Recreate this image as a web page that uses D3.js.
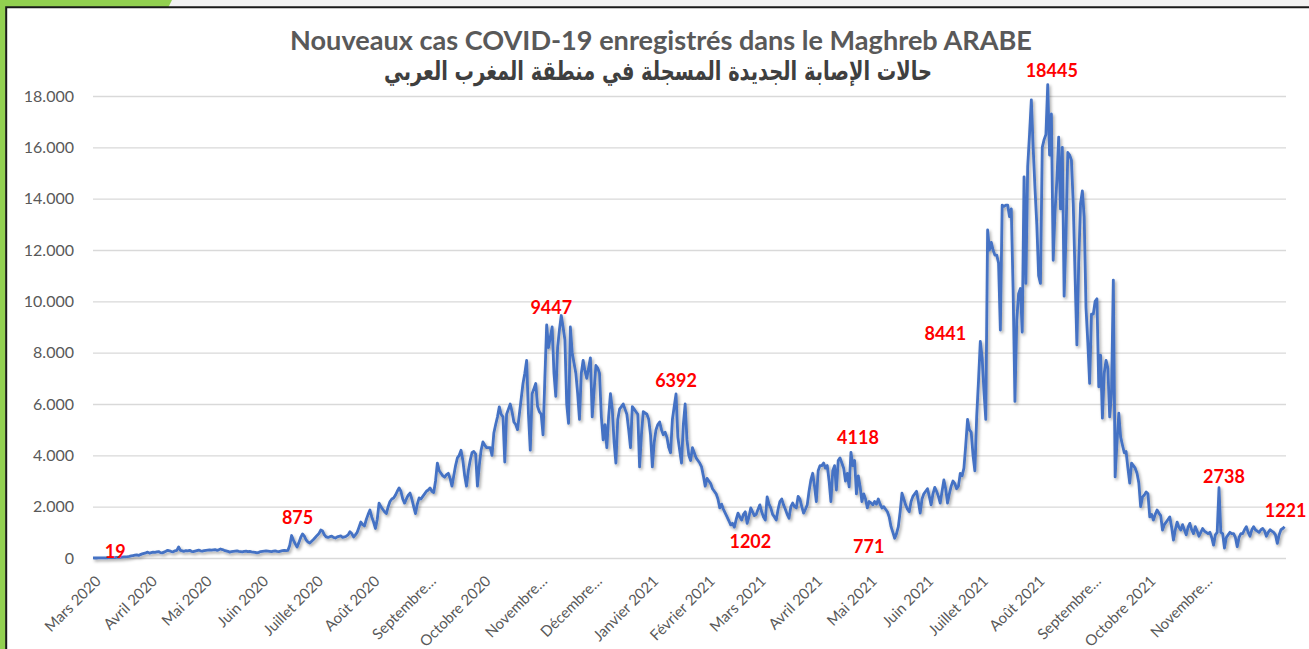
<!DOCTYPE html>
<html>
<head>
<meta charset="utf-8">
<script src="https://cdn.jsdelivr.net/npm/d3@7"></script>
<style>
  body { margin: 0; background: #f2f2f2; }
  svg { display: block; }
</style>
</head>
<body>
<svg id="chart" width="1309" height="649"></svg>
<script>
// daily new cases, one array per month
const feb2020 = [1, 0, 0, 1];
const mar2020 = [2,3,5,8,10,12,19,14,18,25,28,30,35,40,45,50,60,80,95,110,120,100,130,160,180,200,230,190,210,230,220];
const apr2020 = [240,250,210,200,230,260,300,280,250,240,280,300,430,300,280,260,290,280,300,260,250,270,290,310,280,270,290,300,310,320];
const may2020 = [310,320,330,300,320,350,330,300,280,260,230,250,260,270,280,260,250,240,260,270,250,260,240,230,220,200,220,250,260,270,280];
const jun2020 = [270,260,250,270,280,260,250,270,290,300,290,300,500,875,700,550,430,600,800,935,850,700,620,580,650,720,800,880,950,1090];
const jul2020 = [1050,900,820,800,830,850,800,780,820,840,860,800,820,850,900,1020,950,820,900,1000,1200,1400,1300,1250,1500,1700,1870,1600,1400,1150,1500];
const aug2020 = [2140,2000,1900,1800,1730,2000,2200,2300,2340,2450,2600,2730,2600,2300,2140,2300,2450,2530,2300,2000,1730,2100,2340,2300,2400,2500,2600,2650,2730,2600,2550];
const sep2020 = [3000,3700,3400,3300,3200,3150,3250,3300,3100,2800,3200,3600,3900,4000,4200,3800,3200,2800,3400,3800,4100,4150,4050,2800,3600,4200,4520,4400,4300,4300];
const oct2020 = [4300,4000,4870,5200,5500,5890,5600,5500,3740,5600,5800,6000,5700,5300,5200,5000,5600,6200,6800,7200,7700,5600,4200,6400,6600,6800,5900,5700,5600,4800,7000];
const nov2020 = [9080,8200,8600,9000,7200,6300,8200,8900,9447,9000,8500,6000,5250,9000,8000,7600,7200,6400,5400,7200,7700,7300,7000,7400,7800,5500,6500,7500,7400,7200];
const dec2020 = [5500,4600,5200,4300,5500,6400,5800,4500,3700,5400,5800,5900,6000,5800,5600,5000,4300,5900,5800,5700,5600,3550,4800,5700,5650,5600,5400,4800,3550,4500,5000];
const jan2021 = [5200,5300,5000,4800,4900,4700,4300,4100,5400,5900,6392,4700,4200,3700,5200,6000,4600,4000,3800,4300,4100,3900,3800,3700,3550,3200,2800,3100,3000,2900,2700];
const feb2021 = [2600,2500,2300,1950,2100,1900,1750,1600,1450,1290,1350,1202,1500,1750,1600,1480,1700,1800,1350,1600,1950,1800,1650,1700,1900,2070,1800,1600];
const mar2021 = [1480,2380,2100,1950,1700,1600,1480,1900,2200,2300,2070,1900,1700,1550,2000,2140,2000,1950,2400,2300,2000,1750,1900,2070,2600,3040,3300,2800,2200,3400,3600];
const apr2021 = [3600,3700,3500,3600,3000,2200,3400,3600,2650,3800,3900,3700,3500,3000,3300,2770,4118,3600,3800,2500,3200,2800,2200,2500,2300,1950,2200,2150,2070,2200];
const may2021 = [2100,2300,2100,1950,2000,1900,1800,1600,1220,1000,771,950,1220,1800,2530,2300,2070,1900,1800,2200,2400,2500,2600,2200,1750,2300,2500,2600,2700,2400,2070];
const jun2021 = [2500,2750,2600,2400,2140,2600,3040,2700,2140,2500,2800,3000,2900,2700,2800,3300,3200,3500,4400,5400,5000,4900,4000,3400,5500,6900,8441,7800,6500,5400];
const jul2021 = [12780,12000,12300,12000,11800,11800,11500,8880,13750,13700,13750,13750,13300,13600,10440,6100,9270,10300,10500,8800,14850,10700,15250,16500,17850,16000,14400,13000,11000,10700,16000];
const aug2021 = [16300,16500,18445,15700,17300,11600,13500,14700,16400,13600,16000,10200,12500,15800,15700,15500,13800,11000,8300,11500,13800,14300,13300,9750,8400,6800,9500,9500,10000,10100,6670];
const sep2021 = [7900,5450,7200,7700,7400,5500,6400,10830,3160,4500,5640,4720,4400,4100,4150,3500,2920,3700,3600,3500,3300,2920,2000,2380,2450,2570,2500,1600,1700,1480];
const oct2021 = [1700,1870,1750,1650,1090,1300,1400,1500,1600,1200,700,1100,1400,1200,1090,1300,1100,900,1200,1350,1100,950,1220,1050,850,1000,1150,1050,1000,950,1000];
const nov2021 = [800,500,900,1000,2738,1000,950,390,800,900,1000,950,950,800,440,800,950,950,1100,1220,1000,850,1100,1220,1100,1050,1000,1100,1150,1050];
const dec2021 = [850,1000,1100,1050,1000,900,570,900,1100,1150,1221];

const monthStarts = ["2020-02-26","2020-03-01","2020-04-01","2020-05-01","2020-06-01","2020-07-01","2020-08-01",
  "2020-09-01","2020-10-01","2020-11-01","2020-12-01","2021-01-01","2021-02-01","2021-03-01","2021-04-01",
  "2021-05-01","2021-06-01","2021-07-01","2021-08-01","2021-09-01","2021-10-01","2021-11-01","2021-12-01"];
const monthValues = [feb2020, mar2020, apr2020, may2020, jun2020, jul2020, aug2020, sep2020, oct2020, nov2020,
  dec2020, jan2021, feb2021, mar2021, apr2021, may2021, jun2021, jul2021, aug2021, sep2021, oct2021, nov2021, dec2021];

const tickLabels = ["Mars 2020","Avril 2020","Mai 2020","Juin 2020","Juillet 2020","Août 2020","Septembre…",
  "Octobre 2020","Novembre…","Décembre…","Janvier 2021","Février 2021","Mars 2021","Avril 2021","Mai 2021",
  "Juin 2021","Juillet 2021","Août 2021","Septembre…","Octobre 2021","Novembre…"];
const yTicks = [0, 2000, 4000, 6000, 8000, 10000, 12000, 14000, 16000, 18000];

// days that carry a red value label
const labelDates = ["2020-03-07","2020-06-14","2020-11-09","2021-01-11","2021-02-12","2021-04-17",
  "2021-05-11","2021-06-27","2021-08-03","2021-11-05","2021-12-11"];

const title1 = "Nouveaux cas COVID-19 enregistrés dans le Maghreb ARABE";
const title2 = "حالات الإصابة الجديدة المسجلة في منطقة المغرب العربي";

const parseDay = d3.utcParse("%Y-%m-%d");
const series = [];
monthStarts.forEach((s, m) => {
  const start = parseDay(s);
  monthValues[m].forEach((v, i) => series.push({date: d3.utcDay.offset(start, i), value: v}));
});

const svg = d3.select("#chart");
const plotLeft = 93, plotRight = 1284.6, plotTop = 96, plotBottom = 558;

const x = d3.scaleUtc().domain(d3.extent(series, d => d.date)).range([plotLeft, plotRight]);
const y = d3.scaleLinear().domain([0, 18000]).range([plotBottom, plotTop]);

// frame
svg.append("rect").attr("width", 1309).attr("height", 649).attr("fill", "#f2f2f2");
svg.append("path").attr("d", "M0,0 L172,0 L168,8 L6,8 L6,649 L0,649 Z").attr("fill", "#92d050");
svg.append("rect").attr("x", 6).attr("y", 7).attr("width", 1303).attr("height", 642).attr("fill", "#fff");
svg.append("path").attr("d", "M6.2,649 V7.2 H1309").attr("fill", "none").attr("stroke", "#1a1a1a").attr("stroke-width", 2);

const defs = svg.append("defs");
defs.append("filter").attr("id", "shadow").attr("x", "-5%").attr("y", "-5%").attr("width", "110%").attr("height", "110%")
  .append("feDropShadow").attr("dx", 1.5).attr("dy", 2).attr("stdDeviation", 1.4)
  .attr("flood-color", "#000").attr("flood-opacity", 0.35);

const fr = d3.formatLocale({decimal: ",", thousands: ".", grouping: [3], currency: ["", " €"]});

// y axis with gridlines
const yAxis = svg.append("g")
  .attr("transform", `translate(${plotLeft},0)`)
  .call(d3.axisLeft(y).tickValues(yTicks).tickFormat(fr.format(",d"))
    .tickSizeInner(-(1286 - plotLeft)).tickSizeOuter(0).tickPadding(19));
yAxis.select(".domain").remove();
yAxis.selectAll("line").attr("stroke", "#d9d9d9").attr("stroke-width", 1.3);
yAxis.selectAll("text").attr("fill", "#595959").attr("font-family", "Lato, sans-serif").attr("font-size", 16);

// x axis: month starts
const monthTicks = d3.utcMonth.range(parseDay("2020-03-01"), parseDay("2021-11-02"));
const xAxis = svg.append("g")
  .attr("transform", `translate(0,${plotBottom})`)
  .call(d3.axisBottom(x).tickValues(monthTicks).tickFormat((d, i) => tickLabels[i]).tickSize(0));
xAxis.select(".domain").remove();
xAxis.selectAll("text")
  .attr("fill", "#595959").attr("font-family", "Lato, sans-serif").attr("font-size", 15)
  .attr("text-anchor", "end").attr("x", 0).attr("y", 0).attr("dy", 0)
  .attr("transform", "translate(1,24) rotate(-45)");

// the series
svg.append("path")
  .datum(series)
  .attr("fill", "none")
  .attr("stroke", "#4472c4")
  .attr("stroke-width", 2.8)
  .attr("stroke-linejoin", "round")
  .attr("filter", "url(#shadow)")
  .attr("d", d3.line().x(d => x(d.date)).y(d => y(d.value)));

// red value labels, offset from their point
const labelOffsets = [[4, 0], [6, -12], [-10, -2], [0, -7], [16, 21], [7, -8], [-26, 15], [-35, -1], [4, -8], [5, -5], [1, -10]];
const byDay = new Map(series.map(d => [+d.date, d]));
svg.append("g").selectAll("text")
  .data(labelDates.map(s => byDay.get(+parseDay(s))))
  .join("text")
  .attr("x", (d, i) => x(d.date) + labelOffsets[i][0])
  .attr("y", (d, i) => y(d.value) + labelOffsets[i][1])
  .attr("text-anchor", "middle")
  .attr("fill", "#ff0000")
  .attr("font-family", "Lato, sans-serif")
  .attr("font-weight", "bold")
  .attr("font-size", 18)
  .text(d => d.value);

// titles, sized to the width they take in the picture
function fitWidth(sel, width) {
  const len = sel.node().getComputedTextLength();
  sel.attr("font-size", parseFloat(sel.attr("font-size")) * width / len);
}
const t1 = svg.append("text").attr("x", 661).attr("y", 50).attr("text-anchor", "middle")
  .attr("fill", "#595959").attr("font-family", "Lato, sans-serif").attr("font-weight", "bold")
  .attr("font-size", 24).text(title1);
fitWidth(t1, 742);
// DejaVu's Arabic is wide and flat: stretch it to the height it has in the picture
const t2 = svg.append("text").attr("x", 0).attr("y", 0).attr("text-anchor", "middle")
  .attr("transform", "translate(658,80) scale(1,1.35)")
  .attr("fill", "#3f3f3f").attr("font-family", "'DejaVu Sans', sans-serif").attr("font-weight", "bold")
  .attr("font-size", 20).text(title2);
fitWidth(t2, 548);
</script>
</body>
</html>
